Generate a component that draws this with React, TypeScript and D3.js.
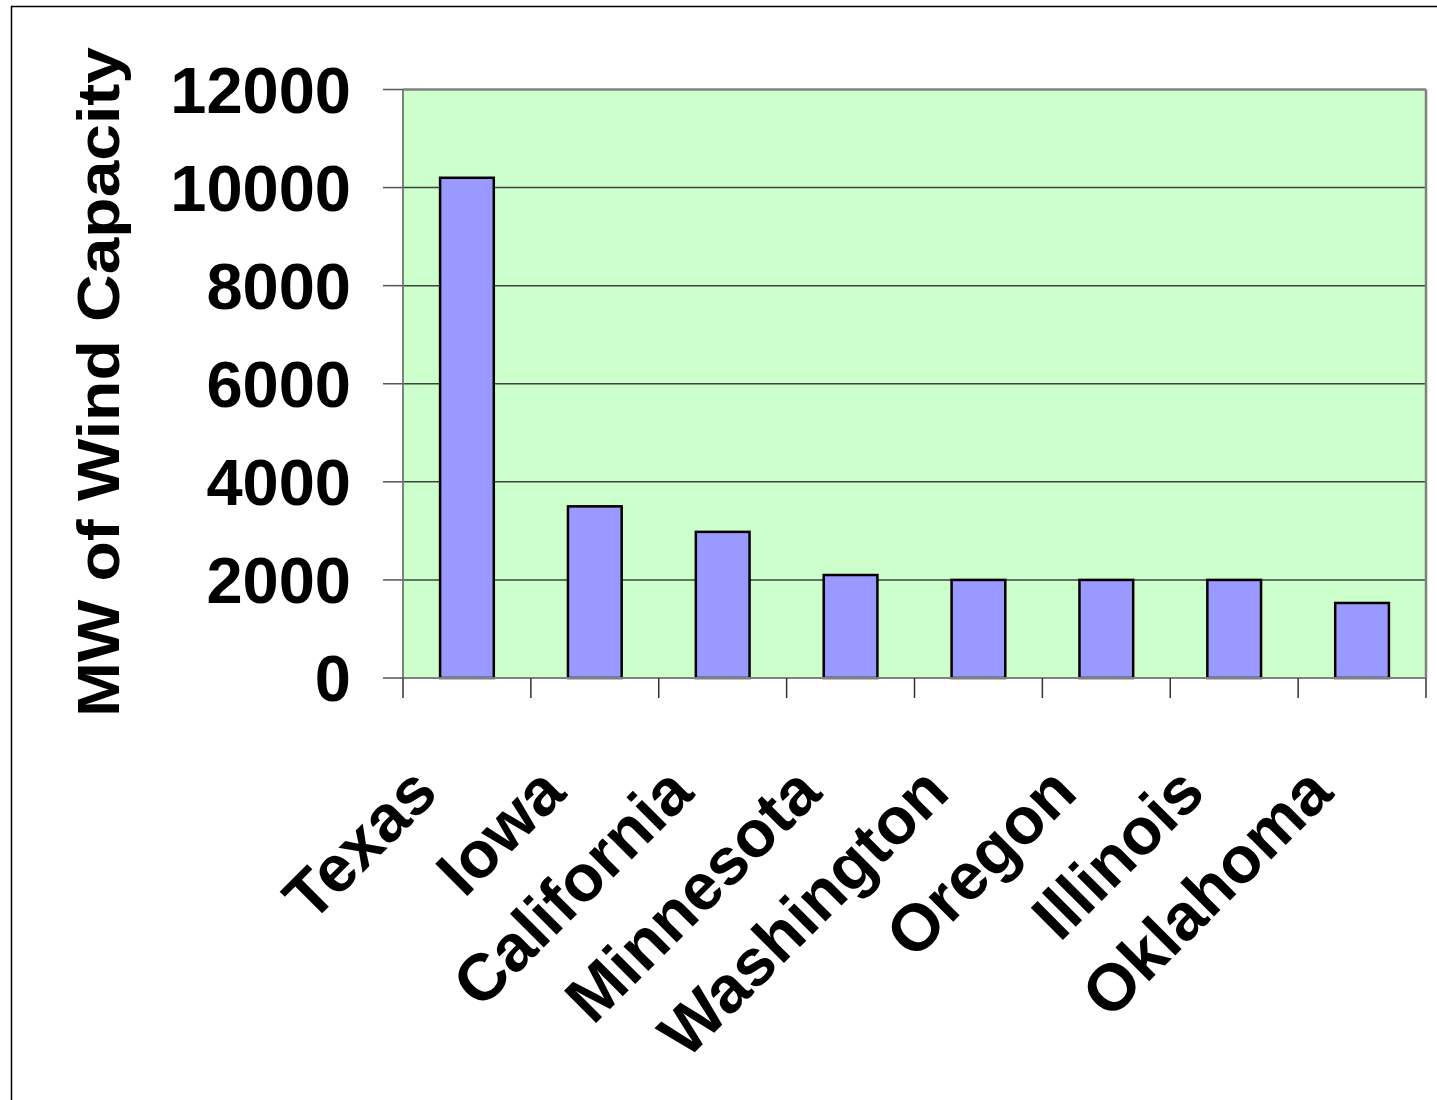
import React from 'react';
import * as d3 from 'd3';

// values (MW)
const states = ['Texas', 'Iowa', 'California', 'Minnesota', 'Washington', 'Oregon', 'Illinois', 'Oklahoma'];
const capacity = [10200, 3500, 2980, 2100, 2000, 2000, 2000, 1530];
const yTicks = [0, 2000, 4000, 6000, 8000, 10000, 12000];
const yTitle = 'MW of Wind Capacity';

const W = 1437;
const H = 1100;
const plot = { left: 403, right: 1426, top: 89.5, bottom: 678 };
const font = '"Liberation Sans", Arial, sans-serif';

export default function App() {
  const x = d3.scaleBand<string>()
    .domain(states)
    .range([plot.left, plot.right])
    .paddingInner(0.58)
    .paddingOuter(0.29);

  const y = d3.scaleLinear().domain([0, 12000]).range([plot.bottom, plot.top]);

  const band = (plot.right - plot.left) / states.length;
  const boundaries = d3.range(states.length + 1).map(i => plot.left + i * band);

  return (
    <svg width={W} height={H} style={{ position: 'absolute', left: 0, top: 0, background: '#fff' }}>
      {/* outer frame (only left/top visible) */}
      <line x1={11.5} x2={11.5} y1={6} y2={H} stroke="#000" strokeWidth={1.5} />
      <line x1={11} x2={W} y1={6.5} y2={6.5} stroke="#000" strokeWidth={1.5} />

      {/* plot background */}
      <rect x={plot.left} y={plot.top} width={plot.right - plot.left} height={plot.bottom - plot.top} fill="#ccffcc" />

      {/* gridlines */}
      {yTicks.filter(t => t > 0 && t < 12000).map(t => (
        <line key={t} x1={plot.left} x2={plot.right} y1={y(t)} y2={y(t)} stroke="#404040" strokeWidth={1.5} />
      ))}

      {/* plot border top / right */}
      <line x1={plot.left} x2={plot.right} y1={plot.top} y2={plot.top} stroke="#808080" strokeWidth={2.5} />
      <line x1={plot.right} x2={plot.right} y1={plot.top} y2={plot.bottom} stroke="#808080" strokeWidth={2.5} />

      {/* bars */}
      {states.map((s, i) => (
        <rect
          key={s}
          x={x(s)}
          y={y(capacity[i])}
          width={x.bandwidth()}
          height={y(0) - y(capacity[i])}
          fill="#9999ff"
          stroke="#000"
          strokeWidth={2.5}
        />
      ))}

      {/* axes */}
      <line x1={plot.left} x2={plot.left} y1={plot.top} y2={plot.bottom} stroke="#808080" strokeWidth={2} />
      <line x1={plot.left} x2={plot.right} y1={plot.bottom} y2={plot.bottom} stroke="#808080" strokeWidth={2} />
      {yTicks.map(t => (
        <line key={t} x1={383} x2={plot.left} y1={y(t)} y2={y(t)} stroke="#555" strokeWidth={1.5} />
      ))}
      {boundaries.map((b, i) => (
        <line key={i} x1={b} x2={b} y1={plot.bottom} y2={plot.bottom + 20} stroke="#333" strokeWidth={1.5} />
      ))}

      {/* y tick labels */}
      {yTicks.map(t => (
        <text
          key={t}
          x={351}
          y={y(t)}
          dy="0.36em"
          textAnchor="end"
          fontFamily={font}
          fontWeight="bold"
          fontSize={65}
          fill="#000"
        >
          {t}
        </text>
      ))}

      {/* x labels, rotated */}
      {states.map(s => {
        const cx = (x(s) ?? 0) + x.bandwidth() / 2;
        return (
          <text
            key={s}
            transform={`translate(${cx - 51},${771}) rotate(-45)`}
            dy="0.52em"
            textAnchor="end"
            fontFamily={font}
            fontWeight="bold"
            fontSize={66}
            fill="#000"
          >
            {s}
          </text>
        );
      })}

      {/* y title */}
      <text
        transform={`translate(119,382) rotate(-90)`}
        textAnchor="middle"
        fontFamily={font}
        fontWeight="bold"
        fontSize={59}
        textLength={670}
        lengthAdjust="spacingAndGlyphs"
        fill="#000"
      >
        {yTitle}
      </text>
    </svg>
  );
}
